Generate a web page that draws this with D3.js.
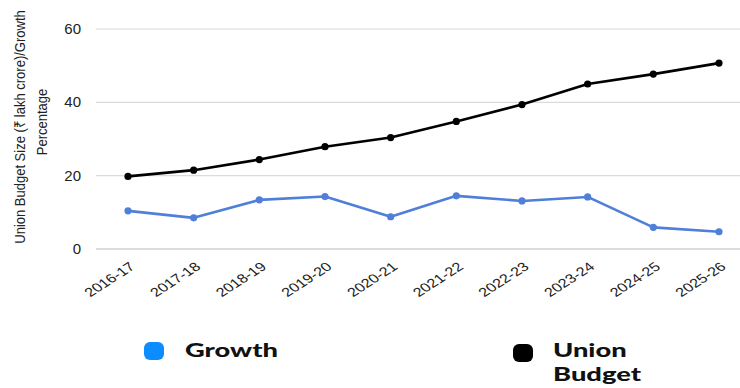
<!DOCTYPE html>
<head>
  <meta charset="utf-8">
  <title>Union Budget</title>
  <script src="https://cdn.jsdelivr.net/npm/d3@7"></script>
  <style>
    body { margin: 0; background: #fff; }
  </style>
</head>
<body>
<script>
  var WIDTH = 740, HEIGHT = 388;

  // data
  var years = ["2016-17", "2017-18", "2018-19", "2019-20", "2020-21",
               "2021-22", "2022-23", "2023-24", "2024-25", "2025-26"];
  var budget = [19.8, 21.5, 24.4, 27.9, 30.4, 34.8, 39.4, 45.0, 47.7, 50.7];
  var growth = [10.4, 8.5, 13.4, 14.3, 8.8, 14.5, 13.1, 14.2, 5.9, 4.7];
  var yTicks = [0, 20, 40, 60];

  var svg = d3.select("body").append("svg")
    .attr("width", WIDTH).attr("height", HEIGHT);

  var x = d3.scalePoint().domain(years).range([128, 719]);
  var y = d3.scaleLinear().domain([0, 60]).range([249, 29]);

  // grid
  svg.selectAll("line.grid").data(yTicks).enter().append("line")
    .attr("x1", 96).attr("x2", WIDTH)
    .attr("y1", function(d){ return y(d); })
    .attr("y2", function(d){ return y(d); })
    .attr("stroke", function(d){ return d === 0 ? "#b8b8b8" : "#dcdcdc"; })
    .attr("stroke-width", 1.2);

  // y tick labels
  svg.selectAll("text.ytick").data(yTicks).enter().append("text")
    .attr("x", 81).attr("y", function(d){ return y(d) + 5; })
    .attr("text-anchor", "end")
    .attr("font-family", "'Liberation Sans', Arial, sans-serif")
    .attr("font-size", 15).attr("fill", "#222")
    .text(function(d){ return d; });

  // x tick labels (the source picture is stretched sideways)
  svg.selectAll("text.xtick").data(years).enter().append("text")
    .attr("transform", function(d){
      return "translate(" + (x(d) + 8) + ",268) scale(1.3,1) rotate(-40)";
    })
    .attr("text-anchor", "end")
    .attr("font-family", "'Liberation Sans', Arial, sans-serif")
    .attr("font-size", 12.5).attr("fill", "#222")
    .text(function(d){ return d; });

  // axis title, narrow glyphs like the source
  var title = svg.append("text")
    .attr("transform", "translate(25,127) scale(1.15,1) rotate(-90)")
    .attr("text-anchor", "middle")
    .attr("font-family", "'Liberation Sans', Arial, sans-serif")
    .attr("font-size", 13).attr("fill", "#222");
  title.append("tspan").attr("x", 0).attr("y", 0)
    .text("Union Budget Size (₹ lakh crore)/Growth");
  title.append("tspan").attr("x", 5).attr("y", 19.5)
    .text("Percentage");

  var line = d3.line()
    .x(function(d, i){ return x(years[i]); })
    .y(function(d){ return y(d); });

  function drawSeries(vals, color) {
    svg.append("path").datum(vals)
      .attr("d", line).attr("fill", "none")
      .attr("stroke", color).attr("stroke-width", 2.6)
      .attr("stroke-linejoin", "round");
    svg.append("g").selectAll("circle").data(vals).enter().append("circle")
      .attr("cx", function(d, i){ return x(years[i]); })
      .attr("cy", function(d){ return y(d); })
      .attr("r", 3.6).attr("fill", color);
  }
  drawSeries(growth, "#4f7fd9");
  drawSeries(budget, "#000");

  // legend
  var legend = [
    { name: ["Growth"], color: "#0b8cff", x: 144, y: 342, tx: 185 },
    { name: ["Union", "Budget"], color: "#000", x: 513, y: 344, tx: 553 }
  ];
  legend.forEach(function(l){
    svg.append("rect").attr("x", l.x).attr("y", l.y)
      .attr("width", 20).attr("height", 18).attr("rx", 6)
      .attr("fill", l.color);
    l.name.forEach(function(s, i){
      svg.append("text")
        .attr("transform", "translate(" + l.tx + "," + (357 + i * 24) + ") scale(1.4,1)")
        .attr("font-family", "Lato, 'Open Sans', sans-serif")
        .attr("font-weight", 900).attr("font-size", 19.5).attr("fill", "#111")
        .text(s);
    });
  });
</script>
</body>
